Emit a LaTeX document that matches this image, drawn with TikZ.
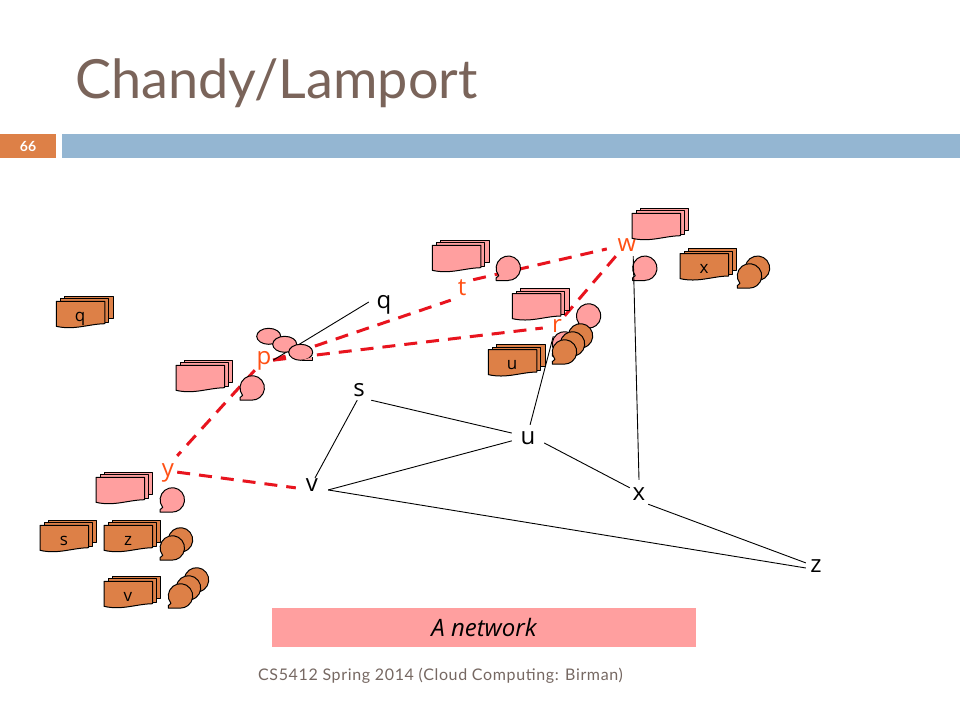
\documentclass[tikz,border=0pt]{standalone}
\usepackage{fontspec}
\setmainfont{Lato}
\newfontfamily\netfont{Open Sans}
\newfontfamily\footfont[LetterSpace=4]{Lato}
\usetikzlibrary{arrows.meta,positioning,calc}
\definecolor{rTitle}{RGB}{122,100,90}
\definecolor{rFoot}{RGB}{118,104,98}
\definecolor{rBar}{RGB}{148,182,210}
\definecolor{rOrange}{RGB}{221,128,71}
\definecolor{rPink}{RGB}{255,159,159}
\definecolor{rDash}{RGB}{232,20,30}
\definecolor{rLabel}{RGB}{255,80,20}
\tikzset{
	netnode/.style={inner sep=0pt,text height=13pt,text depth=0pt,font=\netfont\fontsize{24}{26}\selectfont,text=black},
	cutnode/.style={netnode,text=rLabel},
	doctext/.style={inner sep=0pt,font=\netfont\fontsize{17}{18}\selectfont,text=black},
	netline/.style={draw=black,line width=0.9pt},
	cutline/.style={draw=rDash,line width=3pt,dash pattern=on 13pt off 9pt},
	shapeline/.style={draw=black,line width=1pt,line join=round},
	pics/docstack/.style={code={
		\path[shapeline,fill=#1] (8,0) -- (56.7,0) -- (56.7,22) -- (8,22) -- cycle;
		\path[shapeline,fill=#1] (4,2.7) -- (52.3,2.7) -- (52.3,26) -- (4,26) -- cycle;
		\path[shapeline,fill=#1] (0,5.3) -- (48.5,5.3) -- (48.5,27.7)
			.. controls (32,28) and (18,34.5) .. (0,30.3) -- cycle;
	}},
	pics/balloon/.style={code={
		\path[shapeline,fill=#1] (0,12.2) -- (-12.2,12.2) -- (-12.2,9.6) -- (-9.6,7.4)
			arc[start angle=142,delta angle=308,radius=12.2] -- cycle;
	}}
}
\begin{document}
\begin{tikzpicture}[x=1pt,y=-1pt]
	\useasboundingbox[fill=white] (0,0) rectangle (960,720);

	\node[anchor=base west,inner sep=0pt,text=rTitle,font=\fontsize{54}{64}\selectfont] (title) at (75,98) {Chandy/Lamport};
	\node[fill=rOrange,minimum width=56pt,minimum height=24pt,inner sep=0pt,text=white,font=\bfseries\fontsize{14}{16}\selectfont] (tag) at (28,146) {66};
	\node[fill=rBar,minimum width=898pt,minimum height=24pt,inner sep=0pt] (bar) at (511,146) {};
	\node[fill=rPink,minimum width=424pt,minimum height=39pt,inner sep=0pt,font=\netfont\itshape\fontsize{24}{26}\selectfont] (caption) at (484,627.5) {A network};
	\node[text=rFoot,inner sep=0pt,font=\footfont\fontsize{16}{18}\selectfont] (foot) at (440.5,676) {CS5412 Spring 2014 (Cloud Computing: Birman)};

	\node[netnode,minimum width=30pt,minimum height=20pt] (q) at (384,302) {q};
	\node[netnode,minimum width=24pt,minimum height=20pt] (s) at (359,390) {s};
	\node[netnode,minimum width=32pt,minimum height=26pt] (u) at (528,438) {u};
	\node[netnode,minimum width=32pt,minimum height=14pt] (v) at (312,485) {v};
	\node[netnode,minimum width=18pt,minimum height=28pt] (x) at (639,494) {x};
	\node[netnode,minimum width=20pt,minimum height=20pt] (z) at (816,566) {z};
	\node[cutnode,minimum width=18pt,minimum height=24pt] (p) at (264,358) {p};
	\node[cutnode,text height=17pt,minimum width=22pt,minimum height=26pt] (t) at (462,287) {t};
	\node[cutnode,minimum width=40pt,minimum height=22pt] (w) at (627,245) {w};
	\node[cutnode,minimum width=28pt,minimum height=20pt] (r) at (557,326) {r};
	\node[cutnode,minimum width=18pt,minimum height=28pt] (y) at (168,470) {y};

	\draw[cutline] (p.-13) -- (t.south west);
	\draw[cutline] (t.33) -- (w.191);
	\draw[cutline] (p.-13) -- (r.188);
	\draw[cutline] (w.-135) -- (r.53);
	\draw[cutline] (p.south west) -- (y.north east);
	\draw[cutline] (y.-13) -- (v.190);

	\foreach \px/\py/\nm in {632/208/w,432.3/240/t,512.3/288.3/r,176/360/p,96/472/y}
		\pic (doc\nm) at (\px,\py) {docstack=rPink};
	\foreach \px/\py/\nm in {488.3/344.3/u,680/248.3/x,56.3/296/q,40/520/s,104/520/z,104/576/v}
		\pic (doc\nm) at (\px,\py) {docstack=rOrange};
	\foreach \px/\py/\nm in {508.3/268.3/t,644.8/268.3/w,588.6/316/r,252.2/388/p,172.3/500/y,564.5/344/u}
		\pic (msg\nm) at (\px,\py) {balloon=rPink};
	\foreach \px/\py/\nm in {757.5/268.3/xa,749.5/276/xb,580.5/336/ua,572.5/344/ub,564.5/352/uc,180.5/540/za,172.3/548/zb,196.5/580/va,188.5/588/vb,180.5/596/vc}
		\pic (msg\nm) at (\px,\py) {balloon=rOrange};

	\node[doctext] (lq) at (80,319) {q};
	\node[doctext] (lu) at (512,365) {u};
	\node[doctext] (lx) at (704,269) {x};
	\node[doctext] (ls) at (64,541) {s};
	\node[doctext] (lz) at (128,541) {z};
	\node[doctext] (lv) at (128,597) {v};

	\draw[netline] (p.-13) -- (q.west);
	\draw[netline] (s.south east) -- (u.163);
	\draw[netline] (s.-100) -- (v.67);
	\draw[netline] (v.-17) -- (u.190);
	\draw[netline] (v.-17) -- (z.191);
	\draw[netline] (u.-17) -- (x.146);
	\draw[netline] (x.-48) -- (z.163);
	\draw[netline] (x.north) -- (w.-61);
	\draw[netline] (u.81) -- (r.-110);

	\path[shapeline,fill=rPink] (268.7,336.3) ellipse[x radius=12,y radius=8];
	\path[shapeline,fill=rPink] (284.7,344.3) ellipse[x radius=12,y radius=8];
	\path[shapeline,fill=rPink] (300.7,352.3) ellipse[x radius=12,y radius=8];
	\path[shapeline,fill=rPink] (302,360.3) -- (312.7,360.3) -- (312.7,357);
\end{tikzpicture}
\end{document}
